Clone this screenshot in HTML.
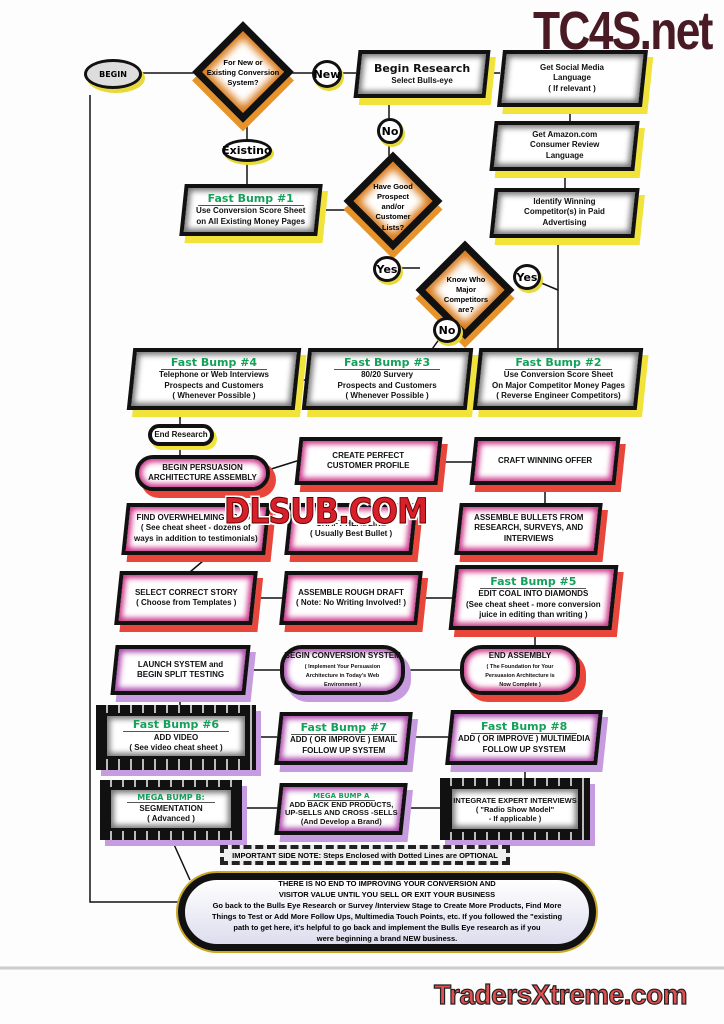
<!DOCTYPE html>
<html><head><meta charset="utf-8"><style>
body{margin:0;width:724px;height:1024px;background:#fdfdfd;position:relative;overflow:hidden;font-family:"Liberation Sans",sans-serif;}
.b{position:absolute;box-sizing:border-box;border:4px solid #111;background:#fff;box-shadow:inset 0 0 6px 3px #777;display:flex;flex-direction:column;align-items:center;justify-content:center;text-align:center;font-size:8px;font-weight:bold;color:#111;line-height:1.3;transform:skewX(-6deg)}
.b>div{transform:skewX(6deg)}
.y{box-shadow:inset 0 0 6px 3px #777,6px 7px 0 #f1e33a}
.r{box-shadow:inset 0 0 6px 3px #c38,6px 7px 0 #e8463a}
.p{box-shadow:inset 0 0 6px 3px #a4a,6px 7px 0 #c79be0}
.rd{transform:none;border-radius:22px}
.rd>div{transform:none}
.g{color:#15a05a;font-size:11px;font-family:"DejaVu Sans",sans-serif;font-weight:bold;border-bottom:1px solid #555;padding:0 10px;margin-bottom:1px}
.chk{position:absolute;background:repeating-linear-gradient(90deg,#111 0 10px,#bbb 10px 12px),#111;box-shadow:5px 6px 0 #c79be0}
.c{position:absolute;box-sizing:border-box;border:3px solid #111;border-radius:50%;background:#fff;display:flex;align-items:center;justify-content:center;font-weight:bold;font-size:11px;font-family:"DejaVu Sans",sans-serif;box-shadow:2px 3px 0 #e8d93a}
.d{position:absolute;box-sizing:border-box;border:7px solid #111;background:#fff;transform:rotate(45deg);box-shadow:inset 0 0 8px 5px #d97a1a,6px 6px 0 #e8922a}
.dt{position:absolute;text-align:center;font-size:7.5px;font-weight:bold;line-height:1.35}
</style></head><body>
<svg width="724" height="1024" style="position:absolute;left:0;top:0" stroke="#111" stroke-width="1.5" fill="none">
<line x1="140" y1="73" x2="200" y2="73"/><line x1="292" y1="73" x2="356" y2="73"/>
<line x1="488" y1="73" x2="500" y2="73"/><line x1="570" y1="108" x2="570" y2="122"/>
<line x1="565" y1="170" x2="565" y2="190"/><line x1="558" y1="237" x2="558" y2="350"/>
<line x1="527" y1="277" x2="558" y2="290"/><line x1="389" y1="98" x2="389" y2="160"/>
<line x1="247" y1="118" x2="247" y2="185"/><line x1="320" y1="210" x2="350" y2="210"/>
<line x1="400" y1="268" x2="420" y2="268"/><line x1="440" y1="338" x2="430" y2="352"/>
<line x1="298" y1="380" x2="305" y2="380"/><line x1="470" y1="380" x2="476" y2="380"/>
<line x1="180" y1="410" x2="180" y2="458"/><line x1="268" y1="470" x2="300" y2="460"/>
<line x1="440" y1="462" x2="472" y2="462"/><line x1="545" y1="485" x2="545" y2="505"/>
<line x1="210" y1="555" x2="190" y2="572"/><line x1="255" y1="598" x2="282" y2="598"/>
<line x1="420" y1="598" x2="452" y2="598"/><line x1="535" y1="630" x2="535" y2="646"/>
<line x1="248" y1="670" x2="280" y2="670"/><line x1="405" y1="670" x2="460" y2="670"/>
<line x1="180" y1="695" x2="180" y2="710"/><line x1="255" y1="737" x2="280" y2="737"/>
<line x1="410" y1="737" x2="448" y2="737"/><line x1="525" y1="765" x2="525" y2="780"/>
<line x1="240" y1="808" x2="278" y2="808"/><line x1="405" y1="808" x2="440" y2="808"/>
<line x1="172" y1="840" x2="190" y2="880"/>
<polyline points="90,95 90,902 178,902"/>
<line x1="0" y1="968" x2="724" y2="968" stroke="#ccc" stroke-width="3"/>
</svg>
<div style="position:absolute;left:533px;top:0px;font:bold 54px 'Liberation Sans Narrow','Liberation Sans',sans-serif;color:#4a1a24;letter-spacing:-2px;transform:scaleX(.82);transform-origin:left">TC4S.net</div>

<div class="c" style="left:84px;top:59px;width:58px;height:30px;font-size:8px;background:#ddd;box-shadow:3px 4px 0 #e8d93a">BEGIN</div>
<div class="d" style="left:207px;top:36px;width:72px;height:72px"></div>
<div class="dt" style="left:205px;top:58px;width:76px">For New or<br>Existing Conversion<br>System?</div>
<div class="c" style="left:312px;top:60px;width:30px;height:28px">New</div>
<div class="b y" style="left:356px;top:50px;width:132px;height:48px"><div><span style="font-size:11px;font-family:'DejaVu Sans'">Begin Research</span><br>Select Bulls-eye</div></div>
<div class="b y" style="left:500px;top:50px;width:145px;height:57px"><div>Get Social Media<br>Language<br>( If relevant )</div></div>
<div class="c" style="left:377px;top:118px;width:26px;height:26px">No</div>
<div class="b y" style="left:492px;top:121px;width:145px;height:50px"><div>Get Amazon.com<br>Consumer Review<br>Language</div></div>
<div class="c" style="left:222px;top:139px;width:50px;height:23px">Existing</div>
<div class="b y" style="left:182px;top:184px;width:138px;height:52px"><div><span class="g">Fast Bump #1</span><br>Use Conversion Score Sheet<br>on All Existing Money Pages</div></div>
<div class="d" style="left:358px;top:166px;width:70px;height:70px"></div>
<div class="dt" style="left:363px;top:182px;width:60px">Have Good<br>Prospect<br>and/or<br>Customer<br>Lists?</div>
<div class="b y" style="left:492px;top:188px;width:145px;height:50px"><div>Identify Winning<br>Competitor(s) in Paid<br>Advertising</div></div>
<div class="d" style="left:430px;top:255px;width:70px;height:70px"></div>
<div class="dt" style="left:436px;top:275px;width:60px">Know Who<br>Major<br>Competitors<br>are?</div>
<div class="c" style="left:373px;top:256px;width:28px;height:26px">Yes</div>
<div class="c" style="left:513px;top:264px;width:28px;height:26px">Yes</div>
<div class="c" style="left:433px;top:317px;width:28px;height:26px">No</div>
<div class="b y" style="left:130px;top:348px;width:168px;height:62px"><div><span class="g">Fast Bump #4</span><br>Telephone or Web Interviews<br>Prospects and Customers<br>( Whenever Possible )</div></div>
<div class="b y" style="left:305px;top:348px;width:165px;height:62px"><div><span class="g">Fast Bump #3</span><br>80/20 Survery<br>Prospects and Customers<br>( Whenever Possible )</div></div>
<div class="b y" style="left:476px;top:348px;width:164px;height:62px"><div><span class="g">Fast Bump #2</span><br>Use Conversion Score Sheet<br>On Major Competitor Money Pages<br>( Reverse Engineer Competitors)</div></div>

<div class="b y rd" style="left:148px;top:424px;width:66px;height:22px;box-shadow:3px 4px 0 #f1e33a"><div>End Research</div></div>
<div class="b r rd" style="left:135px;top:455px;width:135px;height:36px"><div>BEGIN PERSUASION<br>ARCHITECTURE ASSEMBLY</div></div>
<div class="b r" style="left:297px;top:437px;width:143px;height:48px"><div>CREATE PERFECT<br>CUSTOMER PROFILE</div></div>
<div class="b r" style="left:472px;top:437px;width:146px;height:48px"><div>CRAFT WINNING OFFER</div></div>
<div class="b r" style="left:124px;top:503px;width:144px;height:52px"><div>FIND OVERWHELMING PROOF<br>( See cheat sheet - dozens of<br>ways in addition to testimonials)</div></div>
<div class="b r" style="left:287px;top:503px;width:128px;height:52px"><div>CRAFT HEADLINE<br>( Usually Best Bullet )</div></div>
<div class="b r" style="left:457px;top:503px;width:143px;height:52px"><div>ASSEMBLE BULLETS FROM<br>RESEARCH, SURVEYS, AND<br>INTERVIEWS</div></div>
<div class="b r" style="left:117px;top:571px;width:138px;height:54px"><div>SELECT CORRECT STORY<br>( Choose from Templates )</div></div>
<div class="b r" style="left:282px;top:571px;width:138px;height:54px"><div>ASSEMBLE ROUGH DRAFT<br>( Note: No Writing Involved! )</div></div>
<div class="b r" style="left:452px;top:565px;width:163px;height:65px"><div><span class="g">Fast Bump #5</span><br>EDIT COAL INTO DIAMONDS<br>(See cheat sheet - more conversion<br>juice in editing than writing )</div></div>
<div style="position:absolute;left:224px;top:492px;font:900 35px 'DejaVu Sans',sans-serif;color:#d8202a;-webkit-text-stroke:1px #600;text-shadow:2px 2px 0 #fff,-2px -2px 0 #fff,2px -2px 0 #fff,-2px 2px 0 #fff;letter-spacing:-1px;transform:scaleX(.9);transform-origin:left">DLSUB.COM</div>

<div class="b p" style="left:113px;top:645px;width:135px;height:50px"><div>LAUNCH SYSTEM and<br>BEGIN SPLIT TESTING</div></div>
<div class="b p rd" style="left:280px;top:645px;width:125px;height:50px;line-height:1.15"><div>BEGIN CONVERSION SYSTEM<br><span style="font-size:5.5px">( Implement Your Persuasion<br>Architecture in Today's Web<br>Environment )</span></div></div>
<div class="b r rd" style="left:460px;top:645px;width:120px;height:50px;line-height:1.15"><div>END ASSEMBLY<br><span style="font-size:5.5px">( The Foundation for Your<br>Persuasion Architecture is<br>Now Complete )</span></div></div>

<div class="chk" style="left:96px;top:705px;width:160px;height:65px"></div>
<div class="b" style="left:104px;top:713px;width:144px;height:46px;transform:none;border-width:3px"><div style="transform:none"><span class="g">Fast Bump #6</span><br>ADD VIDEO<br>( See video cheat sheet )</div></div>
<div class="b p" style="left:277px;top:712px;width:133px;height:53px"><div><span class="g">Fast Bump #7</span><br>ADD ( OR IMPROVE ) EMAIL<br>FOLLOW UP SYSTEM</div></div>
<div class="b p" style="left:448px;top:710px;width:152px;height:55px"><div><span class="g">Fast Bump #8</span><br>ADD ( OR IMPROVE ) MULTIMEDIA<br>FOLLOW UP SYSTEM</div></div>
<div class="chk" style="left:100px;top:780px;width:142px;height:60px"></div>
<div class="b" style="left:108px;top:787px;width:126px;height:44px;transform:none;border-width:3px"><div style="transform:none"><span class="g" style="font-size:8px">MEGA BUMP B:</span><br>SEGMENTATION<br>( Advanced )</div></div>
<div class="b p" style="left:277px;top:783px;width:128px;height:52px;line-height:1.15;font-size:7.5px"><div><span class="g" style="font-size:7px;padding:0 6px">MEGA BUMP A</span><br>ADD BACK END PRODUCTS,<br>UP-SELLS AND CROSS -SELLS<br>(And Develop a Brand)</div></div>
<div class="chk" style="left:440px;top:778px;width:150px;height:62px"></div>
<div class="b" style="left:449px;top:786px;width:132px;height:46px;transform:none;border-width:3px;line-height:1.2;font-size:7.5px"><div style="transform:none">INTEGRATE EXPERT INTERVIEWS<br>( "Radio Show Model"<br>- If applicable )</div></div>

<div style="position:absolute;left:220px;top:845px;width:290px;height:20px;box-sizing:border-box;border:4px dashed #222;background:#eee;font-size:7.5px;font-weight:bold;display:flex;align-items:center;justify-content:center">IMPORTANT SIDE NOTE: Steps Enclosed with Dotted Lines are OPTIONAL</div>
<div style="position:absolute;left:178px;top:873px;width:418px;height:78px;box-sizing:border-box;border:7px solid #111;border-radius:40px;background:linear-gradient(#fff,#dde);box-shadow:0 0 0 2px #c9a820;font-size:7.5px;font-weight:bold;text-align:center;line-height:1.45;display:flex;align-items:center;justify-content:center">
<div>THERE IS NO END TO IMPROVING YOUR CONVERSION AND<br>VISITOR VALUE UNTIL YOU SELL OR EXIT YOUR BUSINESS<br>Go back to the Bulls Eye Research or Survey /Interview Stage to Create More Products, Find More<br>Things to Test or Add More Follow Ups, Multimedia Touch Points, etc. If you followed the "existing<br>path to get here, it's helpful to go back and implement the Bulls Eye research as if you<br>were beginning a brand NEW business.</div></div>
<div style="position:absolute;left:434px;top:979px;font:bold 28px 'Liberation Sans',sans-serif;color:#e05050;-webkit-text-stroke:1.2px #222;letter-spacing:-.5px">TradersXtreme.com</div>
</body></html>
